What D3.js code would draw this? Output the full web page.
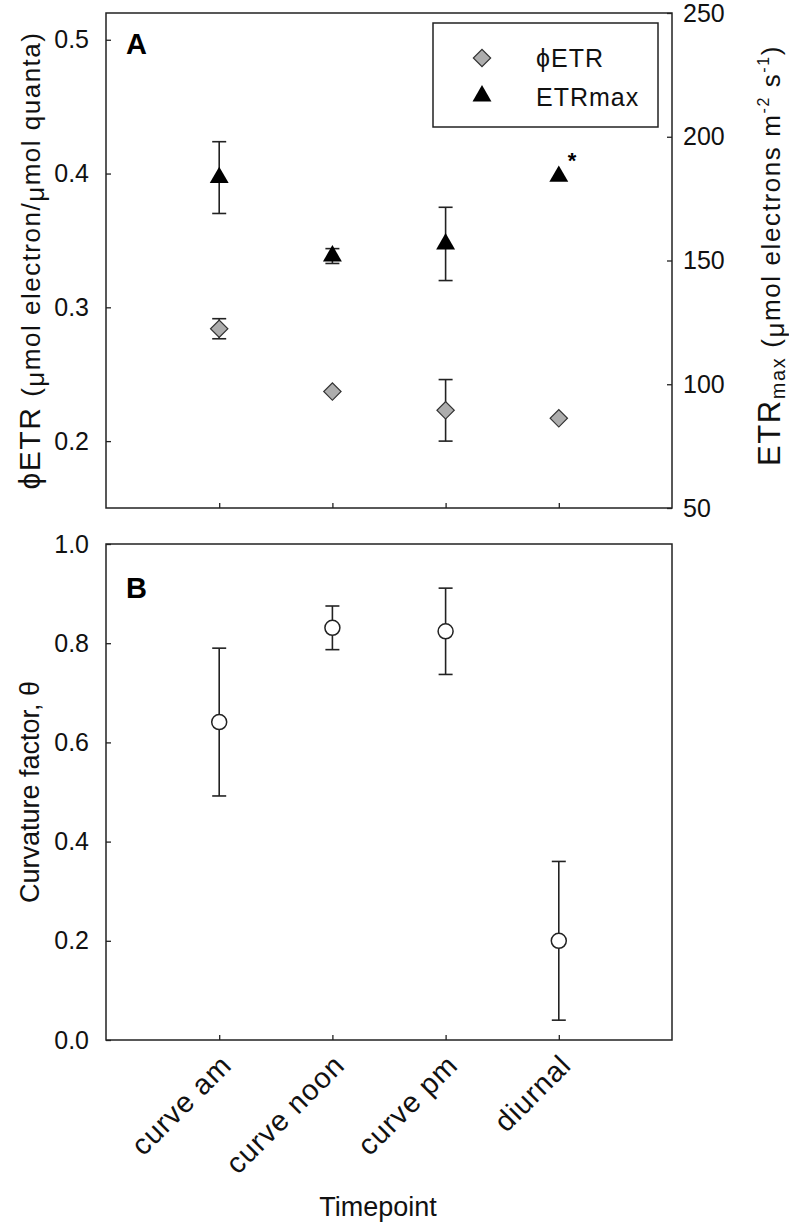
<!DOCTYPE html>
<html>
<head>
<meta charset="utf-8">
<script src="https://cdn.jsdelivr.net/npm/d3@7"></script>
<style>
  html, body { margin: 0; padding: 0; background: #fff; }
  svg { display: block; font-family: "Liberation Sans", Arial, sans-serif; }
</style>
</head>
<body>
<svg id="chart" width="789" height="1227"></svg>
<script>
// ---- Data ----
const categories = ["curve am", "curve noon", "curve pm", "diurnal"];
const phiETR = [0.284, 0.237, 0.223, 0.217];
const phiETRErr = [0.0075, 0, 0.023, 0];
const etrMax = [183.5, 151.8, 156.7, 184.0];
const etrMaxErr = [14.5, 3, 14.8, 0];
const theta = [0.641, 0.831, 0.824, 0.200];
const thetaErr = [0.149, 0.044, 0.087, 0.160];
const leftTicksA = [0.2, 0.3, 0.4, 0.5];
const rightTicksA = [50, 100, 150, 200, 250];
const ticksB = [0.0, 0.2, 0.4, 0.6, 0.8, 1.0];
const seriesNames = ["\u03D5ETR", "ETRmax"];

// ---- Layout ----
const L = 106, R = 672;
const A = { top: 13, bottom: 508 };
const B = { top: 544, bottom: 1040 };

const svg = d3.select("#chart");
const x = d3.scaleLinear().domain([0, categories.length + 1]).range([L, R]);
const yA = d3.scaleLinear().domain([0.15, 0.52]).range([A.bottom, A.top]);
const yR = d3.scaleLinear().domain([50, 250]).range([A.bottom, A.top]);
const yB = d3.scaleLinear().domain([0, 1]).range([B.bottom, B.top]);

const stroke = "#222";
const tickFont = 25;

function styleAxis(g) {
  g.select(".domain").remove();
  g.selectAll(".tick line").attr("stroke", stroke).attr("stroke-width", 1.3);
  g.selectAll(".tick text").attr("fill", "#111").attr("font-size", tickFont);
}

// frames
[A, B].forEach(p => {
  svg.append("rect").attr("x", L).attr("y", p.top).attr("width", R - L).attr("height", p.bottom - p.top)
    .attr("fill", "none").attr("stroke", stroke).attr("stroke-width", 1.5);
});

// ---- Panel A axes ----
svg.append("g").attr("transform", `translate(${L},0)`)
  .call(d3.axisLeft(yA).tickValues(leftTicksA).tickSize(-5).tickPadding(17).tickFormat(d3.format(".1f")))
  .call(styleAxis);
svg.append("g").attr("transform", `translate(${R},0)`)
  .call(d3.axisRight(yR).tickValues(rightTicksA).tickSize(-5).tickPadding(11).tickFormat(d3.format("d")))
  .call(styleAxis);
svg.append("g").attr("transform", `translate(0,${A.bottom})`)
  .call(d3.axisBottom(x).tickValues(categories.map((c, i) => i + 1)).tickSize(-5).tickFormat(""))
  .call(styleAxis);

// ---- Panel B axes ----
svg.append("g").attr("transform", `translate(${L},0)`)
  .call(d3.axisLeft(yB).tickValues(ticksB).tickSize(-5).tickPadding(17).tickFormat(d3.format(".1f")))
  .call(styleAxis);
svg.append("g").attr("transform", `translate(0,${B.bottom})`)
  .call(d3.axisBottom(x).tickValues(categories.map((c, i) => i + 1)).tickSize(-5).tickFormat(""))
  .call(styleAxis);

// rotated category labels
svg.append("g").selectAll("text").data(categories).join("text")
  .attr("transform", (d, i) => `translate(${x(i + 1) + 14},${B.bottom + 27}) rotate(-45)`)
  .attr("text-anchor", "end")
  .attr("font-size", 29).attr("letter-spacing", 1)
  .attr("fill", "#111")
  .text(d => d);

// ---- Axis titles ----
const lt = svg.append("text")
  .attr("transform", `translate(40,${(A.top + A.bottom) / 2}) rotate(-90)`)
  .attr("text-anchor", "middle").attr("fill", "#111").attr("letter-spacing", 1.5);
lt.append("tspan").attr("font-size", 30).text("\u03D5ETR ");
lt.append("tspan").attr("font-size", 26).text("(");
lt.append("tspan").attr("font-size", 26).attr("dy", 4).text("\u03BC");
lt.append("tspan").attr("font-size", 26).attr("dy", -4).text("mol electron/");
lt.append("tspan").attr("font-size", 26).attr("dy", 4).text("\u03BC");
lt.append("tspan").attr("font-size", 26).attr("dy", -4).text("mol quanta)");

const rt = svg.append("text")
  .attr("transform", `translate(780,${(A.top + A.bottom) / 2 - 5}) rotate(-90)`)
  .attr("text-anchor", "middle").attr("fill", "#111").attr("letter-spacing", 1.6);
rt.append("tspan").attr("font-size", 31).text("ETR");
rt.append("tspan").attr("font-size", 20).attr("dy", 5).text("max");
rt.append("tspan").attr("font-size", 26).attr("dy", -5).text(" (");
rt.append("tspan").attr("font-size", 26).attr("dy", 4).text("\u03BC");
rt.append("tspan").attr("font-size", 26).attr("dy", -4).text("mol electrons m");
rt.append("tspan").attr("font-size", 16).attr("dy", -11).text("-2");
rt.append("tspan").attr("font-size", 26).attr("dy", 11).text(" s");
rt.append("tspan").attr("font-size", 16).attr("dy", -11).text("-1");
rt.append("tspan").attr("font-size", 26).attr("dy", 11).text(")");

svg.append("text")
  .attr("transform", `translate(39,${(B.top + B.bottom) / 2}) rotate(-90)`)
  .attr("text-anchor", "middle").attr("font-size", 27).attr("fill", "#111")
  .text("Curvature factor, \u03B8");

svg.append("text").attr("x", 378).attr("y", 1216).attr("text-anchor", "middle")
  .attr("font-size", 27).attr("fill", "#111").text("Timepoint");

// panel letters
svg.append("text").attr("x", 126).attr("y", 54).attr("font-size", 29).attr("font-weight", "bold").text("A");
svg.append("text").attr("x", 126).attr("y", 598).attr("font-size", 29).attr("font-weight", "bold").text("B");

// ---- error bars helper ----
function errorBars(g, vals, errs, yScale, cap) {
  const d = vals.map((v, i) => ({ i, v, e: errs[i] })).filter(o => o.e > 0);
  const eb = g.append("g").attr("stroke", stroke).attr("stroke-width", 1.6);
  eb.selectAll("line.v").data(d).join("line").attr("class", "v")
    .attr("x1", o => x(o.i + 1)).attr("x2", o => x(o.i + 1))
    .attr("y1", o => yScale(o.v - o.e)).attr("y2", o => yScale(o.v + o.e));
  eb.selectAll("line.t").data(d).join("line").attr("class", "t")
    .attr("x1", o => x(o.i + 1) - cap).attr("x2", o => x(o.i + 1) + cap)
    .attr("y1", o => yScale(o.v + o.e)).attr("y2", o => yScale(o.v + o.e));
  eb.selectAll("line.b").data(d).join("line").attr("class", "b")
    .attr("x1", o => x(o.i + 1) - cap).attr("x2", o => x(o.i + 1) + cap)
    .attr("y1", o => yScale(o.v - o.e)).attr("y2", o => yScale(o.v - o.e));
}

const gA = svg.append("g");
errorBars(gA, etrMax, etrMaxErr, yR, 7);
errorBars(gA, phiETR, phiETRErr, yA, 7);

const tri = d3.symbol().type(d3.symbolTriangle).size(155);
const dia = d3.symbol().type(d3.symbolSquare).size(150);

gA.selectAll("path.tri").data(etrMax).join("path").attr("class", "tri")
  .attr("d", tri).attr("fill", "#000")
  .attr("transform", (d, i) => `translate(${x(i + 1)},${yR(d)})`);
gA.selectAll("path.dia").data(phiETR).join("path").attr("class", "dia")
  .attr("d", dia).attr("fill", "#adadad")
  .attr("stroke", "#333").attr("stroke-width", 1.2)
  .attr("transform", (d, i) => `translate(${x(i + 1)},${yA(d)}) rotate(45)`);

// significance star on diurnal ETRmax
gA.append("text")
  .attr("x", x(etrMax.length) + 9).attr("y", yR(etrMax[etrMax.length - 1]) - 8)
  .attr("font-size", 22).attr("font-weight", "bold").attr("fill", "#000").text("*");

// ---- Panel B points ----
const gB = svg.append("g");
errorBars(gB, theta, thetaErr, yB, 7);
gB.selectAll("circle").data(theta).join("circle")
  .attr("cx", (d, i) => x(i + 1)).attr("cy", d => yB(d)).attr("r", 7.5)
  .attr("fill", "#fff").attr("stroke", stroke).attr("stroke-width", 1.5);

// ---- Legend ----
const lg = svg.append("g");
lg.append("rect").attr("x", 433).attr("y", 23).attr("width", 225).attr("height", 104)
  .attr("fill", "#fff").attr("stroke", stroke).attr("stroke-width", 1.5);
lg.append("path").attr("d", dia).attr("fill", "#adadad")
  .attr("stroke", "#333").attr("stroke-width", 1.2).attr("transform", "translate(482,58) rotate(45)");
lg.append("path").attr("d", tri).attr("fill", "#000").attr("transform", "translate(482,96)");
lg.selectAll("text").data(seriesNames).join("text")
  .attr("x", 536).attr("y", (d, i) => 67 + i * 39)
  .attr("font-size", 25).attr("letter-spacing", 1).attr("fill", "#111").text(d => d);
</script>
</body>
</html>
